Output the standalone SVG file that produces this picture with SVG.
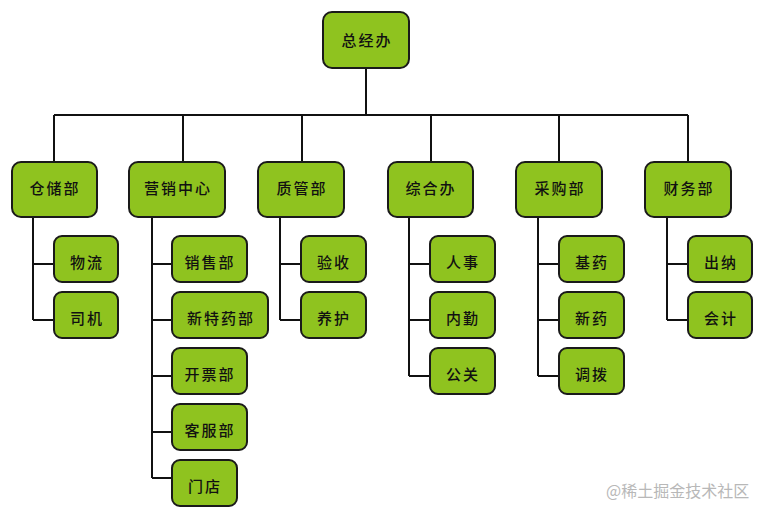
<svg xmlns="http://www.w3.org/2000/svg" width="765" height="516" viewBox="0 0 765 516">
<style>
.n{fill:#8fc31f;stroke:#1a1a1a;stroke-width:2}
.t{font-family:"Noto Sans CJK SC","Noto Sans",sans-serif;font-size:15px;font-weight:500;fill:#111;text-anchor:middle;dominant-baseline:central;letter-spacing:2px}
.c{fill:none;stroke:#111;stroke-width:2}
.w{font-family:"Noto Sans CJK SC","Noto Sans",sans-serif;font-size:16px;fill:#b8b8b8}
</style>
<rect width="765" height="516" fill="#fff"/>
<g id="connectors" class="c">
<path d="M366 68V115M54 115H688M54 115V162M183 115V162M302 115V162M431 115V162M559 115V162M688 115V162"/>
<path d="M33 217V320M33 264H54M33 320H54"/>
<path d="M152 217V478M152 264H172M152 320H172M152 376H172M152 432H172M152 478H172"/>
<path d="M280 217V320M280 264H301M280 320H301"/>
<path d="M409 217V376M409 264H430M409 320H430M409 376H430"/>
<path d="M538 217V376M538 264H559M538 320H559M538 376H559"/>
<path d="M667 217V320M667 264H688M667 320H688"/>
</g>
<g id="n0"><rect class="n" x="323" y="12" width="86" height="56" rx="9"/><text class="t" x="367" y="39">总经办</text></g>
<g id="n1"><rect class="n" x="12" y="162" width="85" height="55" rx="9"/><text class="t" x="55" y="187">仓储部</text></g>
<g id="n2"><rect class="n" x="129" y="162" width="96" height="55" rx="9"/><text class="t" x="178" y="187">营销中心</text></g>
<g id="n3"><rect class="n" x="258" y="162" width="86" height="55" rx="9"/><text class="t" x="302" y="187">质管部</text></g>
<g id="n4"><rect class="n" x="388" y="162" width="85" height="55" rx="9"/><text class="t" x="431" y="187">综合办</text></g>
<g id="n5"><rect class="n" x="516" y="162" width="86" height="55" rx="9"/><text class="t" x="560" y="187">采购部</text></g>
<g id="n6"><rect class="n" x="645" y="162" width="86" height="55" rx="9"/><text class="t" x="689" y="187">财务部</text></g>
<g id="n7"><rect class="n" x="54" y="236" width="64" height="46" rx="8"/><text class="t" x="87" y="261">物流</text></g>
<g id="n8"><rect class="n" x="54" y="292" width="64" height="46" rx="8"/><text class="t" x="87" y="317">司机</text></g>
<g id="n9"><rect class="n" x="172" y="236" width="75" height="46" rx="8"/><text class="t" x="210" y="261">销售部</text></g>
<g id="n10"><rect class="n" x="172" y="292" width="96" height="46" rx="8"/><text class="t" x="221" y="317">新特药部</text></g>
<g id="n11"><rect class="n" x="172" y="348" width="75" height="46" rx="8"/><text class="t" x="210" y="373">开票部</text></g>
<g id="n12"><rect class="n" x="172" y="404" width="75" height="46" rx="8"/><text class="t" x="210" y="429">客服部</text></g>
<g id="n13"><rect class="n" x="172" y="460" width="65" height="46" rx="8"/><text class="t" x="205" y="485">门店</text></g>
<g id="n14"><rect class="n" x="301" y="236" width="65" height="46" rx="8"/><text class="t" x="334" y="261">验收</text></g>
<g id="n15"><rect class="n" x="301" y="292" width="65" height="46" rx="8"/><text class="t" x="334" y="317">养护</text></g>
<g id="n16"><rect class="n" x="430" y="236" width="65" height="46" rx="8"/><text class="t" x="463" y="261">人事</text></g>
<g id="n17"><rect class="n" x="430" y="292" width="65" height="46" rx="8"/><text class="t" x="463" y="317">内勤</text></g>
<g id="n18"><rect class="n" x="430" y="348" width="65" height="46" rx="8"/><text class="t" x="463" y="373">公关</text></g>
<g id="n19"><rect class="n" x="559" y="236" width="65" height="46" rx="8"/><text class="t" x="592" y="261">基药</text></g>
<g id="n20"><rect class="n" x="559" y="292" width="65" height="46" rx="8"/><text class="t" x="592" y="317">新药</text></g>
<g id="n21"><rect class="n" x="559" y="348" width="65" height="46" rx="8"/><text class="t" x="592" y="373">调拨</text></g>
<g id="n22"><rect class="n" x="688" y="236" width="64" height="46" rx="8"/><text class="t" x="721" y="261">出纳</text></g>
<g id="n23"><rect class="n" x="688" y="292" width="64" height="46" rx="8"/><text class="t" x="721" y="317">会计</text></g>
<text class="w" x="606" y="497">@稀土掘金技术社区</text>
</svg>
